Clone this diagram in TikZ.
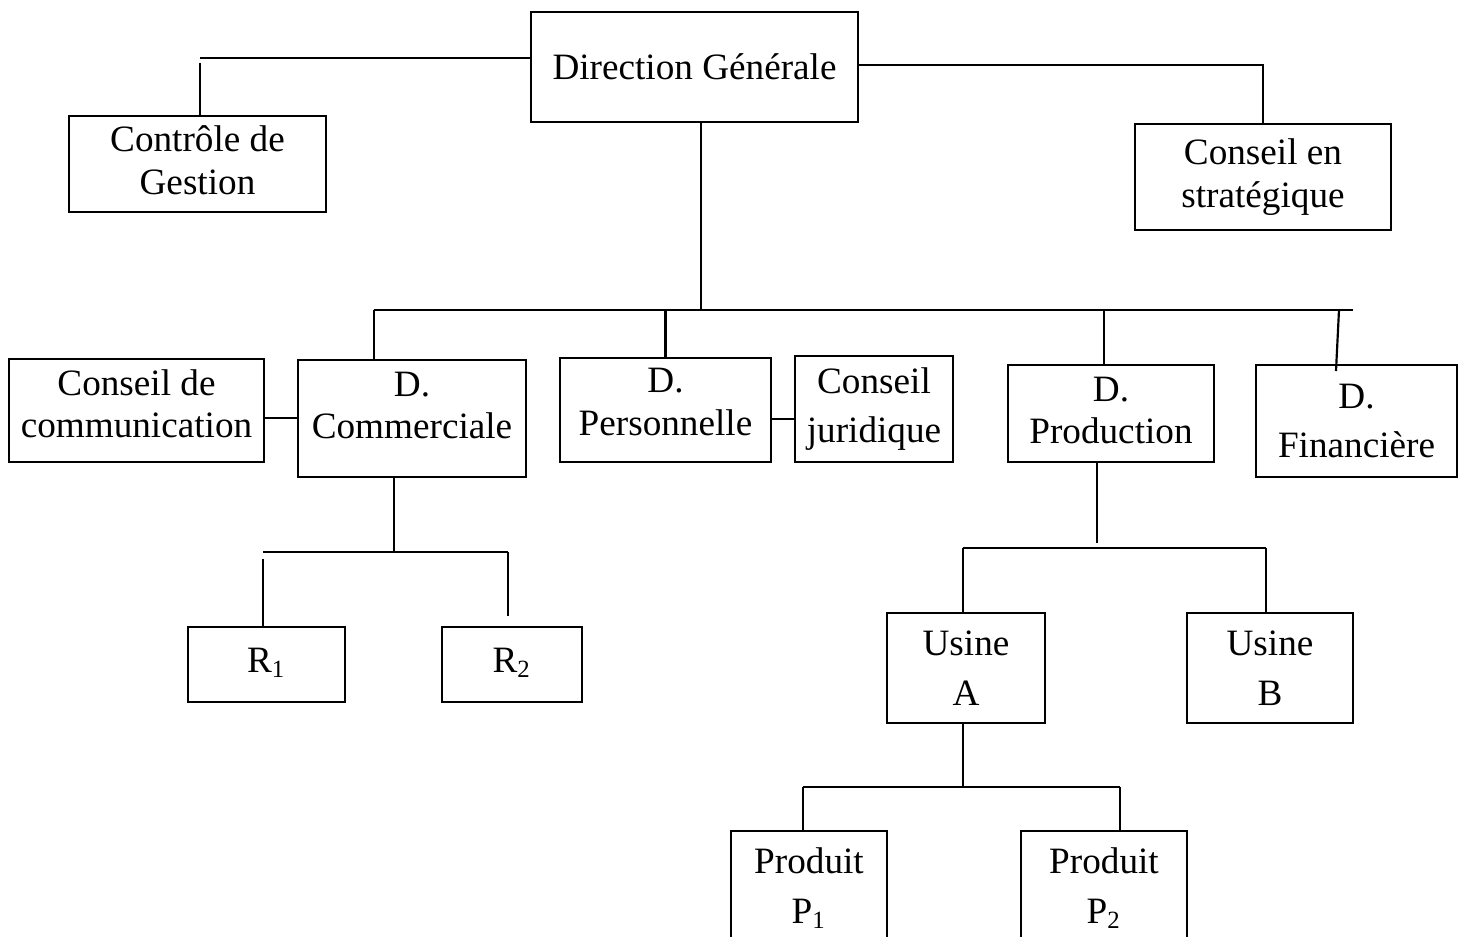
\documentclass[tikz,border=0pt]{standalone}
\usepackage{fontspec}
\setmainfont{Liberation Serif}
\usepackage{tikz}

\begin{document}
\begin{tikzpicture}[x=0.3226pt,y=-0.3226pt]
\tikzstyle{boite}=[draw,rectangle,line width=0.7pt,align=center,inner sep=1pt,font=\fontsize{12}{13.7}\selectfont]
\tikzstyle{interligne}=[font=\fontsize{12}{16.1}\selectfont]
\tikzstyle{trait}=[line width=0.7pt]
\newcommand{\bas}[1]{\rule[-#1]{0pt}{0pt}}
\useasboundingbox (0,0) rectangle (1466,937);
\clip (0,0) rectangle (1466,937);
\node[boite,minimum width=105.5pt,minimum height=35.5pt](dg) at (694.5,66.7){Direction Générale};
\node[boite,minimum width=82.9pt,minimum height=31pt](ctrl) at (197.5,164){Contrôle de\\Gestion\bas{2.5pt}};
\node[boite,minimum width=82.6pt,minimum height=34.2pt](strat) at (1263,177){Conseil en\\stratégique};
\node[boite,minimum width=82.3pt,minimum height=33.2pt](ccom) at (136.5,410.5){Conseil de\\communication\bas{4.5pt}};
\node[boite,minimum width=73.6pt,minimum height=37.7pt](dcom) at (412,418.5){D.\\Commerciale\bas{8.4pt}};
\node[boite,minimum width=68.1pt,minimum height=33.6pt](dper) at (665.5,410){D.\\Personnelle\bas{5.2pt}};
\node[boite,interligne,minimum width=51pt,minimum height=34.2pt](cjur) at (874,409){Conseil\\juridique};
\node[boite,minimum width=66.5pt,minimum height=31.3pt](dprod) at (1111,413.5){D.\\Production\bas{2pt}};
\node[boite,interligne,minimum width=64.8pt,minimum height=36.1pt](dfin) at (1356.5,421){D.\\Financière};
\node[boite,minimum width=50.6pt,minimum height=24.2pt](r1) at (266.5,664.5){R\textsubscript{1}\bas{3pt}};
\node[boite,minimum width=45.2pt,minimum height=24.2pt](r2) at (512,664.5){R\textsubscript{2}\bas{3pt}};
\node[boite,interligne,minimum width=51pt,minimum height=35.5pt](ua) at (966,668){Usine\\A};
\node[boite,interligne,minimum width=53.6pt,minimum height=35.5pt](ub) at (1270,668){Usine\\B};
\node[boite,interligne,minimum width=50.3pt,minimum height=36.8pt](p1) at (809,888){Produit\\P\textsubscript{1}};
\node[boite,interligne,minimum width=53.6pt,minimum height=36.8pt](p2) at (1104,888){Produit\\P\textsubscript{2}};
\coordinate (dgB) at (700.7,310);
\coordinate (ctrlH) at (200,58);
\coordinate (busL) at (373.7,310);
\coordinate (busR) at (1353,310);
\coordinate (busP) at (1104,310);
\coordinate (busF) at (1339,310);
\coordinate (finF) at (1336,371);
\coordinate (comB) at (394,552);
\coordinate (comL) at (263,552);
\coordinate (comR) at (508,552);
\coordinate (prodB) at (1097,543);
\coordinate (uL) at (963,548);
\coordinate (uR) at (1266,548);
\coordinate (pB) at (963,787);
\coordinate (pL) at (803,787);
\coordinate (pR) at (1120,787);
\draw[trait] (dg.west |- ctrlH) -- (ctrlH);
\draw[trait,shorten <=1.6pt] (ctrlH) -- (ctrlH |- ctrl.north);
\draw[trait] (dg.east |- 0,65) -| (strat.north);
\draw[trait] (dg.south -| dgB) -- (dgB);
\draw[trait] (busL) -- (busR);
\draw[trait] (busL) -- (busL |- dcom.north);
\draw[trait] (dper.north |- busL) -- (dper.north);
\draw[trait] (busP) -- (busP |- dprod.north);
\draw[trait] (busF) -- (finF);
\draw[trait] (ccom.east |- 0,418) -- (dcom.west |- 0,418);
\draw[trait] (dper.east |- 0,419) -- (cjur.west |- 0,419);
\draw[trait] (dcom.south -| comB) -- (comB);
\draw[trait] (comL) -- (comR);
\draw[trait,shorten <=2.3pt] (comL) -- (comL |- r1.north);
\draw[trait,shorten >=3.2pt] (comR) -- (comR |- r2.north);
\draw[trait] (dprod.south -| prodB) -- (prodB);
\draw[trait] (uL) -- (uR);
\draw[trait] (uL) -- (uL |- ua.north);
\draw[trait] (uR) -- (uR |- ub.north);
\draw[trait] (ua.south -| pB) -- (pB);
\draw[trait] (pL) -- (pR);
\draw[trait] (pL) -- (pL |- p1.north);
\draw[trait] (pR) -- (pR |- p2.north);
\end{tikzpicture}
\end{document}
